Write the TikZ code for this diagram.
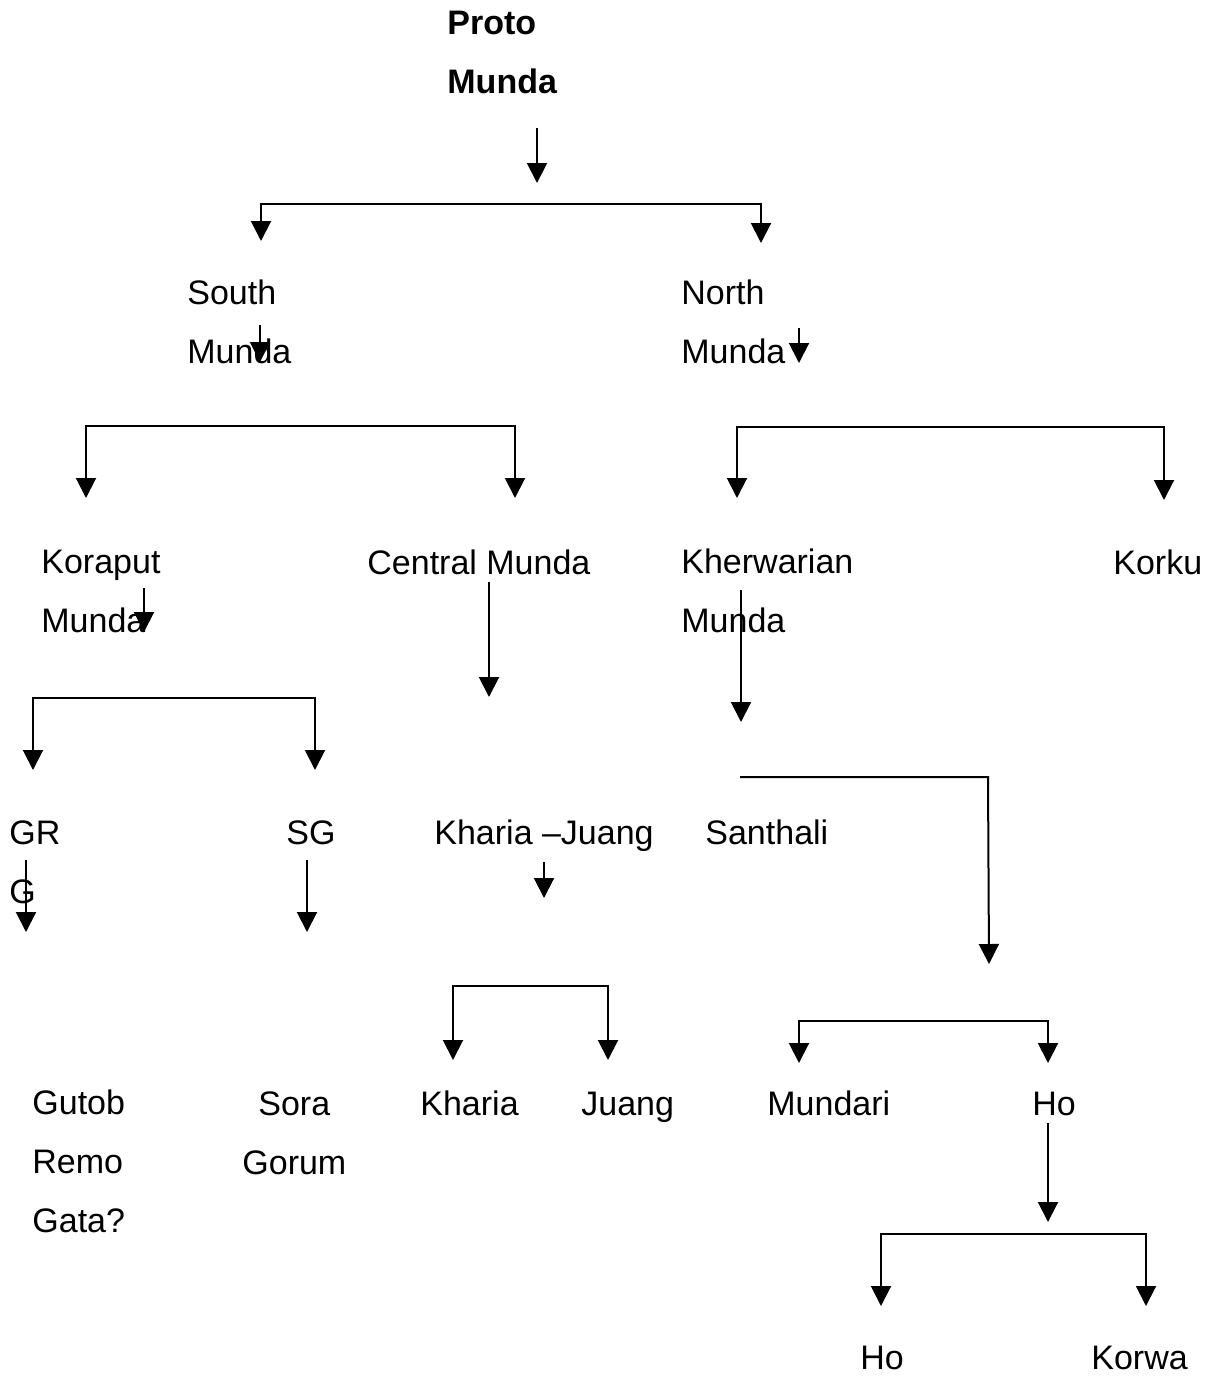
\documentclass[tikz,border=0pt]{standalone}
\usepackage{fontspec}
\setmainfont{Liberation Sans}
\usetikzlibrary{arrows.meta}
% fixed height of the first line of every label, so that labels sit on their baselines
\newcommand\lnstrut{\rule{0pt}{13pt}}
\begin{document}
\begin{tikzpicture}[x=0.5pt,y=-0.5pt,
  lbl/.style={anchor=north west, inner sep=0pt, yshift=13pt, align=left,
    font=\fontsize{17}{29.5}\selectfont, execute at begin node=\lnstrut},
  root/.style={lbl, font=\fontsize{17}{29.5}\selectfont\bfseries},
  link/.style={line width=1pt},
  arr/.style={link, -{Triangle[width=10pt,length=10pt]}},
  fork/.style={link, {Triangle[width=10pt,length=10pt]}-{Triangle[width=10pt,length=10pt]}}]
\useasboundingbox (0,0) rectangle (1217,1376);

% ---------- labels (placed at the baseline of their first line)
\node[root] (proto) at (447,37) {Proto\\Munda};
\node[lbl] (south) at (187,305) {South\\Munda};
\node[lbl] (north) at (681,305) {North\\Munda};
\node[lbl] (koraput) at (41,576) {Koraput\\Munda};
\node[lbl] (central) at (367,574) {Central Munda};
\node[lbl] (kherwarian) at (681,574) {Kherwarian\\Munda};
\node[lbl] (korku) at (1113,574) {Korku};
\node[lbl] (grg) at (9,846) {GR\\G};
\node[lbl] (sg) at (286,844) {SG};
\node[lbl] (khariajuang) at (434,844) {Kharia \textendash Juang};
\node[lbl] (santhali) at (705,844) {Santhali};
\node[lbl] (gutob) at (32,1115) {Gutob\\Remo\\Gata?};
\node[lbl] (sora) at (258,1115) {Sora};
\node[lbl] (gorum) at (242,1174) {Gorum};
\node[lbl] (kharia) at (420,1115) {Kharia};
\node[lbl] (juang) at (581,1115) {Juang};
\node[lbl] (mundari) at (767,1115) {Mundari};
\node[lbl] (ho) at (1032,1115) {Ho};
\node[lbl] (hoB) at (860,1369) {Ho};
\node[lbl] (korwa) at (1091,1369) {Korwa};

% ---------- connector end points
\coordinate (p1) at (537,128);  \coordinate (p2) at (537,183);
\coordinate (s1) at (261,241);  \coordinate (s2) at (261,204);
\coordinate (s3) at (761,204);  \coordinate (s4) at (761,243);
\coordinate (sm1) at (260,325); \coordinate (sm2) at (260,362);
\coordinate (nm1) at (799,328); \coordinate (nm2) at (799,363);
\coordinate (k1) at (86,498);   \coordinate (k2) at (86,426);
\coordinate (k3) at (515,426);  \coordinate (k4) at (515,498);
\coordinate (n1) at (737,498);  \coordinate (n2) at (737,427);
\coordinate (n3) at (1164,427); \coordinate (n4) at (1164,500);
\coordinate (km1) at (144,588); \coordinate (km2) at (144,632);
\coordinate (g1) at (33,770);   \coordinate (g2) at (33,698);
\coordinate (g3) at (315,698);  \coordinate (g4) at (315,770);
\coordinate (c1) at (489,582);  \coordinate (c2) at (489,697);
\coordinate (h1) at (741,590);  \coordinate (h2) at (741,722);
\coordinate (t1) at (740,777);  \coordinate (t2) at (988,777);
\coordinate (t3) at (989,964);
\coordinate (gr1) at (26,860);  \coordinate (gr2) at (26,932);
\coordinate (sg1) at (307,860); \coordinate (sg2) at (307,932);
\coordinate (kj1) at (544,862); \coordinate (kj2) at (544,898);
\coordinate (j1) at (453,1060); \coordinate (j2) at (453,986);
\coordinate (j3) at (608,986);  \coordinate (j4) at (608,1060);
\coordinate (m1) at (799,1063); \coordinate (m2) at (799,1021);
\coordinate (m3) at (1048,1021);\coordinate (m4) at (1048,1063);
\coordinate (o1) at (1048,1123);\coordinate (o2) at (1048,1222);
\coordinate (b1) at (881,1306); \coordinate (b2) at (881,1234);
\coordinate (b3) at (1146,1234);\coordinate (b4) at (1146,1306);

% ---------- connectors
\draw[arr]  (p1) -- (p2);
\draw[fork] (s1) -- (s2) -- (s3) -- (s4);
\draw[arr]  (sm1) -- (sm2);
\draw[arr]  (nm1) -- (nm2);
\draw[fork] (k1) -- (k2) -- (k3) -- (k4);
\draw[fork] (n1) -- (n2) -- (n3) -- (n4);
\draw[arr]  (km1) -- (km2);
\draw[fork] (g1) -- (g2) -- (g3) -- (g4);
\draw[arr]  (c1) -- (c2);
\draw[arr]  (h1) -- (h2);
\draw[arr]  (t1) -- (t2) -- (t3);
\draw[arr]  (gr1) -- (gr2);
\draw[arr]  (sg1) -- (sg2);
\draw[arr]  (kj1) -- (kj2);
\draw[fork] (j1) -- (j2) -- (j3) -- (j4);
\draw[fork] (m1) -- (m2) -- (m3) -- (m4);
\draw[arr]  (o1) -- (o2);
\draw[fork] (b1) -- (b2) -- (b3) -- (b4);
\end{tikzpicture}
\end{document}
